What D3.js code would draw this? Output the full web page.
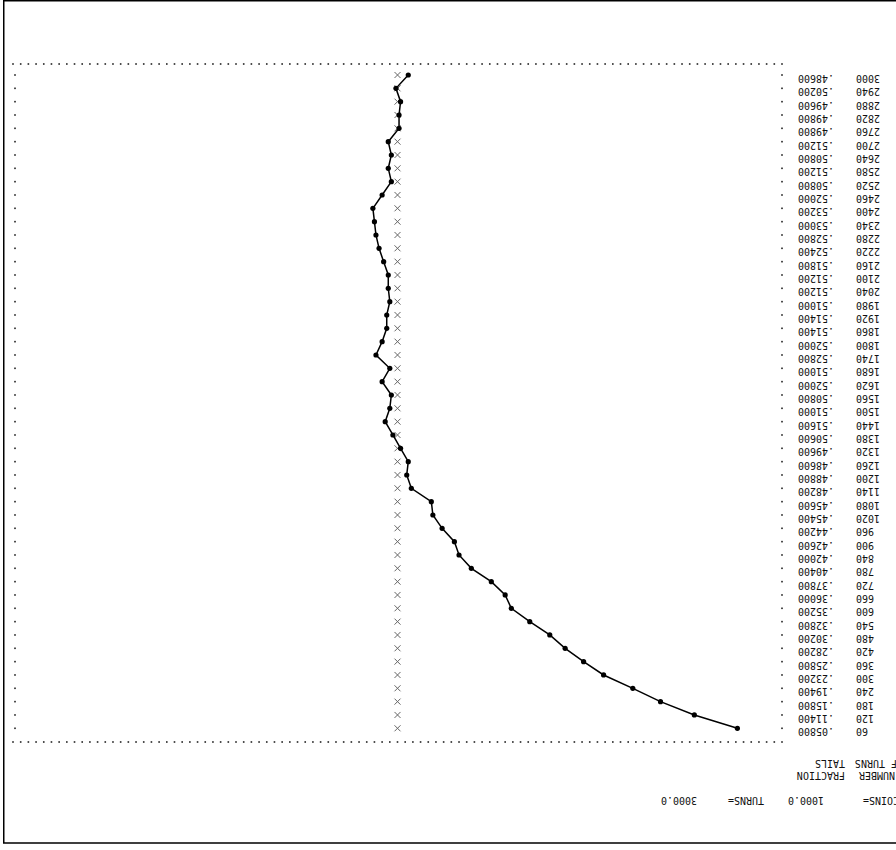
<!DOCTYPE html>
<html>
<head>
<meta charset="utf-8">
<script src="https://cdn.jsdelivr.net/npm/d3@7"></script>
<style>
  html, body { margin: 0; padding: 0; background: #fff; }
  svg { display: block; }
  text { font-family: "DejaVu Sans Mono", "Liberation Mono", monospace; fill: #111; }
</style>
</head>
<body>
<svg id="chart" width="896" height="850"></svg>
<script>
// ---- data (turn number, fraction of tails) ----
const turns = [60,120,180,240,300,360,420,480,540,600,660,720,780,840,900,960,1020,1080,1140,1200,
  1260,1320,1380,1440,1500,1560,1620,1680,1740,1800,1860,1920,1980,2040,2100,2160,2220,2280,2340,2400,
  2460,2520,2580,2640,2700,2760,2820,2880,2940,3000];
const fractionTails = [0.058,0.114,0.158,0.194,0.232,0.258,0.282,0.302,0.328,0.352,0.360,0.378,0.404,0.420,0.426,0.442,0.454,0.456,0.482,0.488,
  0.486,0.496,0.506,0.516,0.510,0.508,0.520,0.510,0.528,0.520,0.514,0.514,0.510,0.512,0.512,0.518,0.524,0.528,0.530,0.532,
  0.520,0.508,0.512,0.508,0.512,0.498,0.498,0.496,0.502,0.486];
const expectedFraction = 0.5;
const coins = 1000.0;
const totalTurns = 3000.0;
const colHeaders1 = ["NUMBER", "OF TURNS"];
const colHeaders2 = ["FRACTION", "TAILS"];

const rows = turns.map((t, i) => ({turn: t, frac: fractionTails[i]}));

const svg = d3.select("#chart");
const FS = 10;

// page is printed upside down: fraction axis runs right->left, turns run bottom->top
const x = d3.scaleLinear().domain([0, 1]).range([782, 13]);
const y = d3.scaleLinear().domain([60, 3000]).range([728.3, 75]);

// frame (top, left, bottom edges)
svg.append("path")
  .attr("d", "M896,0.75 H3.75 V843 H896")
  .attr("fill", "none").attr("stroke", "#000").attr("stroke-width", 1.5);

// dotted horizontal boundary rows
const dotTicks = x.ticks(100);
[64, 742].forEach(yy => {
  svg.append("g").selectAll("rect").data(dotTicks).join("rect")
    .attr("x", d => x(d) - 0.8).attr("y", yy - 0.8)
    .attr("width", 1.6).attr("height", 1.6).attr("fill", "#222");
});

// vertical dotted columns at fraction 0 and 1 (one per row)
[0, 1].forEach(f => {
  svg.append("g").selectAll("rect").data(rows).join("rect")
    .attr("x", x(f) + (f === 1 ? 2 : 0) - 0.8).attr("y", d => y(d.turn) - 0.8)
    .attr("width", 1.6).attr("height", 1.6).attr("fill", "#222");
});

// expected value markers (x)
const xs = 3;
svg.append("g").selectAll("path").data(rows).join("path")
  .attr("d", d => {
    const cx = x(expectedFraction), cy = y(d.turn);
    return `M${cx - xs},${cy - xs}L${cx + xs},${cy + xs}M${cx - xs},${cy + xs}L${cx + xs},${cy - xs}`;
  })
  .attr("stroke", "#666").attr("stroke-width", 1).attr("fill", "none");

// data line
svg.append("path").datum(rows)
  .attr("d", d3.line().x(d => x(d.frac)).y(d => y(d.turn)))
  .attr("fill", "none").attr("stroke", "#000").attr("stroke-width", 1.5);

svg.append("g").selectAll("circle").data(rows).join("circle")
  .attr("cx", d => x(d.frac)).attr("cy", d => y(d.turn)).attr("r", 2.6).attr("fill", "#000");

// row labels (upside-down text)
const fmtFrac = v => d3.format(".5f")(v).replace(/^0/, "");
const TY = 3.5;
svg.append("g").selectAll("text").data(rows).join("text")
  .attr("transform", d => `translate(834,${y(d.turn) + TY}) rotate(180)`)
  .attr("dy", "0.35em").attr("font-size", FS).attr("text-anchor", "start")
  .text(d => fmtFrac(d.frac));

svg.append("g").selectAll("text").data(rows).join("text")
  .attr("transform", d => `translate(856,${y(d.turn) + TY}) rotate(180)`)
  .attr("dy", "0.35em").attr("font-size", FS).attr("text-anchor", "end")
  .text(d => d.turn);

// column headers
const hy = [775, 763];
const h1x = [895, 903];
colHeaders1.forEach((t, i) => {
  svg.append("text").attr("transform", `translate(${h1x[i]},${hy[i]}) rotate(180)`)
    .attr("dy", "0.35em").attr("font-size", FS).text(t);
});
colHeaders2.forEach((t, i) => {
  svg.append("text").attr("transform", `translate(845,${hy[i]}) rotate(180)`)
    .attr("dy", "0.35em").attr("font-size", FS).text(t);
});

// summary line
const summary = [
  {t: "COINS=", x: 899},
  {t: d3.format(".1f")(coins), x: 824},
  {t: "TURNS=", x: 764},
  {t: d3.format(".1f")(totalTurns), x: 697}
];
svg.append("g").selectAll("text").data(summary).join("text")
  .attr("transform", d => `translate(${d.x},800) rotate(180)`)
  .attr("dy", "0.35em").attr("font-size", FS).text(d => d.t);
</script>
</body>
</html>
